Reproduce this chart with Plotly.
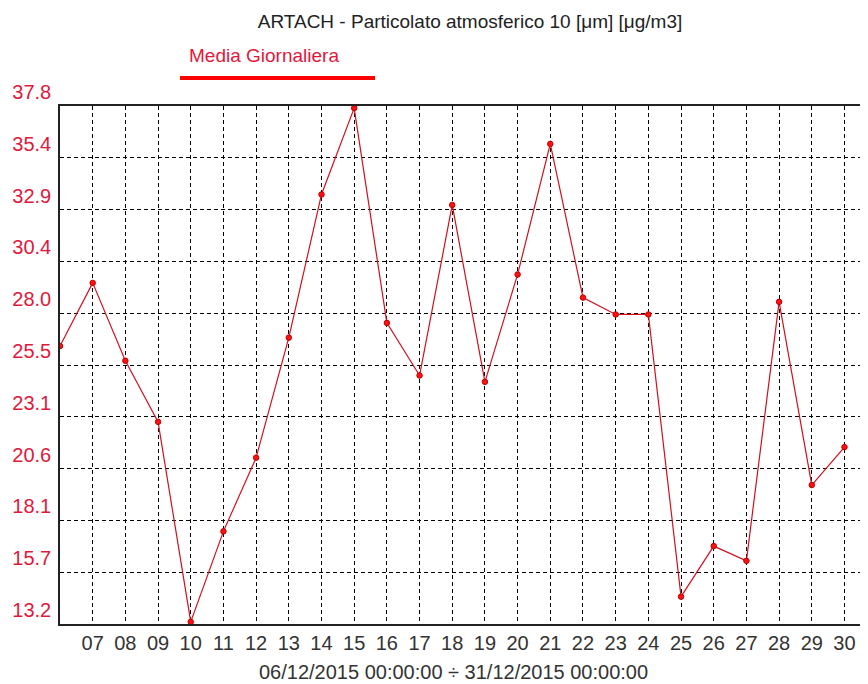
import plotly.graph_objects as go

days = list(range(6, 31))
pm10 = [26.4, 29.4, 25.7, 22.8, 13.3, 17.6, 21.1, 26.8, 33.6, 37.7, 27.5, 25.0, 33.1,
        24.7, 29.8, 36.0, 28.7, 27.9, 27.9, 14.5, 16.9, 16.2, 28.5, 19.8, 21.6]
x_tickvals = list(range(7, 31))
x_ticktext = ["%02d" % d for d in x_tickvals]
y_ticktext = ["13.2", "15.7", "18.1", "20.6", "23.1", "25.5", "28.0", "30.4", "32.9", "35.4", "37.8"]
y_min, y_max = 13.2, 37.8
y_tickvals = [y_min + k * (y_max - y_min) / 10 for k in range(11)]

RED_TXT = "#e0183c"
LINE_RED = "#d0101e"

# page body has an 8px margin; figure sized so it ends at the window edge
OFF = 8
W, H = 868 - OFF, 684 - OFF
PL, PR, PT, PB = 60, 868, 106, 624  # plot area in page pixels
PW, PH = PR - PL, PB - PT

def px(xp):
    return (xp - PL) / PW

def py(yp):
    return (PB - yp) / PH

fig = go.Figure()
fig.add_trace(go.Scatter(
    x=days, y=pm10, mode="lines+markers",
    line=dict(color=LINE_RED, width=1.2),
    marker=dict(color="#ff1010", size=5.5, line=dict(color="#c00000", width=1)),
    showlegend=False,
))

font = "Liberation Sans, Arial, sans-serif"
fig.update_layout(
    width=W, height=H,
    margin=dict(l=PL - OFF, r=0, t=PT - OFF, b=H - (PB - OFF)),
    paper_bgcolor="white", plot_bgcolor="white",
    font=dict(family=font, size=19, color="#222"),
    title=dict(text="ARTACH - Particolato atmosferico 10 [μm] [μg/m3]",
               x=(470 - OFF) / W, xanchor="center", y=1 - (21 - OFF) / H, yanchor="middle",
               font=dict(size=19, color="#222")),
    xaxis=dict(range=[6, 30.72], tickvals=x_tickvals, ticktext=x_ticktext,
               showgrid=True, gridcolor="black", gridwidth=1, griddash="4px,3px",
               showline=True, linecolor="#222", linewidth=1.5, mirror=True,
               ticks="", zeroline=False, tickfont=dict(color="#333", size=20)),
    yaxis=dict(range=[y_min, y_max], tickvals=y_tickvals, ticktext=y_ticktext,
               showgrid=True, gridcolor="black", gridwidth=1, griddash="4px,3px",
               showline=True, linecolor="#222", linewidth=1.5, mirror=False,
               ticks="", zeroline=False, ticklabelposition="outside top",
               ticklabelstandoff=3,
               tickfont=dict(color=RED_TXT, size=20)),
    annotations=[
        dict(text="06/12/2015 00:00:00 ÷ 31/12/2015 00:00:00", xref="paper", yref="paper",
             x=px(453), y=py(672), xanchor="center", yanchor="middle",
             showarrow=False, font=dict(size=20, color="#333")),
        dict(text="Media Giornaliera", xref="paper", yref="paper",
             x=px(264), y=py(55), xanchor="center", yanchor="middle",
             showarrow=False, font=dict(size=19, color=RED_TXT)),
    ],
    shapes=[
        dict(type="line", xref="paper", yref="paper",
             x0=px(180), x1=px(375), y0=py(78), y1=py(78),
             line=dict(color="#ff0000", width=4)),
    ],
)

fig.write_html("out.html")
